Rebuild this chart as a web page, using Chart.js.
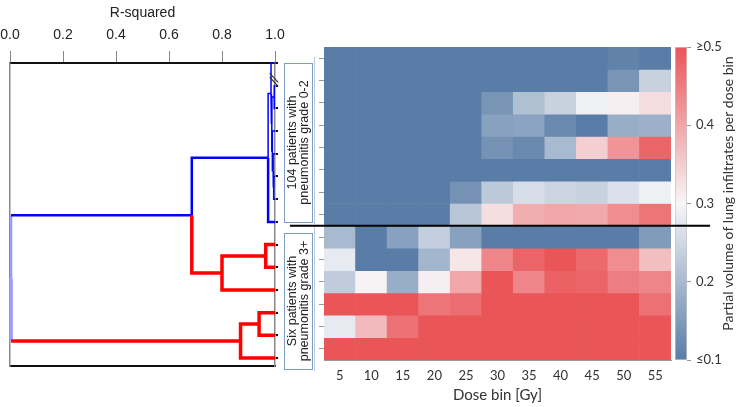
<!DOCTYPE html>
<html>
<head>
<meta charset="utf-8">
<script src="https://cdn.jsdelivr.net/npm/chart.js@4.4.0/dist/chart.umd.min.js"></script>
<style>
  body { margin: 0; background: #fff; }
  #wrap { position: relative; width: 741px; height: 407px; overflow: hidden; }
  canvas { position: absolute; top: 0; }
  #dendro { left: 0; }
  #scale { left: 660px; z-index: 1; }
  #heat { left: 280px; z-index: 2; }
</style>
</head>
<body>
<div id="wrap">
  <canvas id="dendro" width="290" height="407"></canvas>
  <canvas id="scale" width="81" height="407"></canvas>
  <canvas id="heat" width="440" height="407"></canvas>
</div>
<script>
// ---- data ----
const doseBins = ["5", "10", "15", "20", "25", "30", "35", "40", "45", "50", "55"];
const rSquaredTicks = [0, 0.2, 0.4, 0.6, 0.8, 1.0];
const volumeTicks = [0.1, 0.2, 0.3, 0.4, 0.5];

// partial volume of lung infiltrates per dose bin, one row per patient (top to bottom)
const lowGradeRows = [
  [0.1, 0.1, 0.1, 0.1, 0.1, 0.1, 0.1, 0.1, 0.1, 0.11, 0.1],
  [0.1, 0.1, 0.1, 0.1, 0.1, 0.1, 0.1, 0.1, 0.1, 0.14, 0.24],
  [0.1, 0.1, 0.1, 0.1, 0.1, 0.14, 0.21, 0.24, 0.29, 0.31, 0.33],
  [0.1, 0.1, 0.1, 0.1, 0.1, 0.16, 0.165, 0.12, 0.1, 0.18, 0.185],
  [0.1, 0.1, 0.1, 0.1, 0.1, 0.135, 0.12, 0.2, 0.35, 0.42, 0.48],
  [0.1, 0.1, 0.1, 0.1, 0.1, 0.1, 0.1, 0.1, 0.1, 0.1, 0.1],
  [0.1, 0.1, 0.1, 0.1, 0.135, 0.225, 0.26, 0.245, 0.24, 0.265, 0.29],
  [0.1, 0.1, 0.1, 0.1, 0.22, 0.33, 0.39, 0.40, 0.395, 0.43, 0.46]
];
const highGradeRows = [
  [0.2, 0.1, 0.16, 0.235, 0.16, 0.1, 0.1, 0.1, 0.1, 0.1, 0.15],
  [0.28, 0.1, 0.1, 0.195, 0.32, 0.44, 0.48, 0.5, 0.475, 0.43, 0.37],
  [0.23, 0.305, 0.18, 0.31, 0.40, 0.5, 0.44, 0.485, 0.48, 0.45, 0.44],
  [0.5, 0.5, 0.5, 0.46, 0.47, 0.5, 0.5, 0.5, 0.5, 0.5, 0.465],
  [0.28, 0.375, 0.465, 0.5, 0.5, 0.5, 0.5, 0.5, 0.5, 0.5, 0.5],
  [0.5, 0.5, 0.5, 0.5, 0.5, 0.5, 0.5, 0.5, 0.5, 0.5, 0.5]
];

// dendrogram joins: children (leaf 0..13, node 14+) and R-squared of the join
const mergeLeft  = [1, 5, 4, 3, 14, 0, 19, 8, 21, 11, 23, 20, 25];
const mergeRight = [2, 6, 15, 16, 17, 18, 7, 9, 10, 12, 13, 22, 24];
const mergeR2    = [0.997, 0.995, 0.993, 0.990, 0.988, 0.985, 0.974, 0.965, 0.80, 0.94, 0.87, 0.686, 0.004];

// ---- styles ----
const BLUE = '#0000ff', RED = '#ff0000', PALE = '#9c9cff';
const LOW = 'rgb(89,125,166)', MID = 'rgb(247,246,248)', HIGH = 'rgb(234,85,88)';
const labelFont = 'Lato, "Open Sans", sans-serif';
const arialFont = '"Liberation Sans", Arial, sans-serif';

function mix(a, b, t) {
  return a.map((v, i) => Math.round(v + (b[i] - v) * t));
}
function volumeColor(v) {
  const lo = [89, 125, 166], mid = [247, 246, 248], hi = [234, 85, 88];
  const c = Math.min(0.5, Math.max(0.1, v));
  const rgb = c < 0.3 ? mix(lo, mid, (c - 0.1) / 0.2) : mix(mid, hi, (c - 0.3) / 0.2);
  return `rgb(${rgb.join(',')})`;
}

// ---- dendrogram ----
const nLeaves = lowGradeRows.length + highGradeRows.length;
const nodeX = [], nodeY = [];
for (let i = 0; i < nLeaves; i++) { nodeX.push(1.0); nodeY.push(i); }
mergeR2.forEach((h, k) => {
  nodeX.push(h);
  nodeY.push((nodeY[mergeLeft[k]] + nodeY[mergeRight[k]]) / 2);
});

function branchLook(k, side) {
  const child = side === 0 ? mergeLeft[k] : mergeRight[k];
  if (k === mergeR2.length - 1) {
    return { v: PALE, h: side === 0 ? BLUE : RED, w: side === 0 ? 2.5 : 3.5 };
  }
  if (k === mergeR2.length - 2) {
    return side === 0 ? { v: BLUE, h: BLUE, w: 2.5 } : { v: RED, h: RED, w: 3.5 };
  }
  if (k >= 7) return { v: RED, h: RED, w: 3.5 };
  if (child === 7) return { v: BLUE, h: BLUE, w: 2.5 };
  return { v: BLUE, h: BLUE, w: 1.5 };
}

const dendroSets = [];
mergeR2.forEach((h, k) => {
  const y = nodeY[nLeaves + k];
  [mergeLeft[k], mergeRight[k]].forEach((c, side) => {
    const look = branchLook(k, side);
    dendroSets.push({
      data: [{ x: h, y: y }, { x: h, y: nodeY[c] }, { x: nodeX[c], y: nodeY[c] }],
      showLine: true,
      pointRadius: 0,
      borderWidth: look.w,
      borderColor: look.h,
      segment: { borderColor: ctx => ctx.p0DataIndex === 0 ? look.v : look.h },
      clip: false
    });
  });
});

const breakMark = {
  id: 'breakMark',
  afterDatasetsDraw(chart) {
    const { ctx, scales } = chart;
    const x0 = scales.x.getPixelForValue(0.98), x1 = scales.x.getPixelForValue(1.012);
    const y0 = scales.y.getPixelForValue(0.45), y1 = scales.y.getPixelForValue(0.85);
    ctx.save();
    ctx.strokeStyle = '#333';
    ctx.lineWidth = 1.2;
    [0, 4].forEach(d => {
      ctx.beginPath();
      ctx.moveTo(x0, y0 + d);
      ctx.lineTo(x1, y1 + d);
      ctx.stroke();
    });
    ctx.restore();
  }
};

new Chart(document.getElementById('dendro'), {
  type: 'scatter',
  data: { datasets: dendroSets },
  options: {
    responsive: false,
    animation: false,
    devicePixelRatio: 1,
    layout: { padding: 0 },
    plugins: { legend: { display: false }, tooltip: { enabled: false } },
    scales: {
      x: {
        type: 'linear', position: 'top', min: 0, max: 1,
        afterBuildTicks: s => { s.ticks = rSquaredTicks.map(v => ({ value: v })); },
        afterFit: s => { s.height = 63; s.paddingLeft = 0; s.paddingRight = 0; },
        ticks: { font: { family: arialFont, size: 14 }, color: '#222', padding: 7, maxRotation: 0, callback: v => v.toFixed(1) },
        grid: { drawOnChartArea: false, tickLength: 12, color: '#888' },
        border: { color: '#111', width: 2 },
        title: { display: true, text: 'R-squared', font: { family: arialFont, size: 14 }, color: '#222', padding: { top: 5 } }
      },
      x2: {
        type: 'linear', position: 'bottom', min: 0, max: 1,
        afterFit: s => { s.height = 41; },
        ticks: { display: false },
        grid: { display: false },
        border: { color: '#111', width: 2 }
      },
      y: {
        type: 'linear', position: 'left', reverse: true, min: 0, max: 13.35,
        afterFit: s => { s.width = 10; },
        ticks: { display: false },
        grid: { display: false },
        border: { color: '#888', width: 1.5 }
      },
      y2: {
        type: 'linear', position: 'right', reverse: true, min: 0, max: 13.35,
        afterBuildTicks: s => { s.ticks = nodeY.slice(0, nLeaves).map(v => ({ value: v })); },
        afterFit: s => { s.width = 15; },
        ticks: { display: false },
        grid: { drawOnChartArea: false, drawTicks: true, tickLength: 3, color: '#111', lineWidth: 2 },
        border: { color: '#888', width: 1.5 }
      }
    }
  },
  plugins: [breakMark]
});

// ---- heatmap ----
const heatRows = lowGradeRows.concat(highGradeRows);

const heatExtras = {
  id: 'heatExtras',
  afterDraw(chart) {
    const { ctx, scales } = chart;
    const ySep = scales.y.getPixelForValue(lowGradeRows.length - 0.5);
    ctx.save();
    // separator between the two patient groups
    ctx.strokeStyle = '#000';
    ctx.lineWidth = 2;
    ctx.beginPath();
    ctx.moveTo(10, ySep);
    ctx.lineTo(430, ySep);
    ctx.stroke();
    // group label boxes
    const boxes = [
      { top: 63, bottom: 222, lines: ['104 patients with', 'pneumonitis grade 0-2'] },
      { top: 233, bottom: 369, lines: ['Six patients with', 'pneumonitis grade 3+'] }
    ];
    boxes.forEach(b => {
      ctx.strokeStyle = '#7f9cc6';
      ctx.lineWidth = 1;
      ctx.strokeRect(4.5, b.top + 0.5, 28, b.bottom - b.top);
      ctx.strokeStyle = '#b9c9de';
      ctx.beginPath();
      ctx.moveTo(34.5, b.top - 6);
      ctx.lineTo(34.5, b.bottom + 2);
      ctx.stroke();
      ctx.save();
      ctx.translate(18.5, (b.top + b.bottom) / 2);
      ctx.rotate(-Math.PI / 2);
      ctx.fillStyle = '#222';
      ctx.font = '12.5px ' + arialFont;
      ctx.textAlign = 'center';
      ctx.textBaseline = 'middle';
      ctx.fillText(b.lines[0], 0, -6);
      ctx.fillText(b.lines[1], 0, 6);
      ctx.restore();
    });
    ctx.restore();
  }
};

new Chart(document.getElementById('heat'), {
  type: 'bar',
  data: {
    labels: doseBins,
    datasets: heatRows.map((row, i) => ({
      data: row.map(() => [i - 0.5, i + 0.5]),
      backgroundColor: row.map(volumeColor),
      borderWidth: 0,
      grouped: false,
      barPercentage: 1,
      categoryPercentage: 1
    }))
  },
  options: {
    responsive: false,
    animation: false,
    devicePixelRatio: 1,
    layout: { padding: { top: 47, right: 49, left: 0, bottom: 0 } },
    plugins: { legend: { display: false }, tooltip: { enabled: false } },
    scales: {
      x: {
        afterFit: s => { s.height = 47; },
        ticks: { font: { family: labelFont, size: 13 }, color: '#333', padding: 8 },
        grid: { display: false, drawTicks: false },
        border: { color: '#999', width: 1 },
        title: { display: true, text: 'Dose bin [Gy]', font: { family: labelFont, size: 15 }, color: '#333', padding: { top: 0, bottom: 3 } }
      },
      y: {
        type: 'linear', reverse: true, min: -0.5, max: heatRows.length - 0.5,
        afterBuildTicks: s => { s.ticks = heatRows.map((r, i) => ({ value: i })); },
        afterFit: s => { s.width = 44; },
        ticks: { display: false },
        grid: { drawOnChartArea: false, drawTicks: true, tickLength: 5, color: '#999' },
        border: { color: '#999', width: 1 }
      }
    }
  },
  plugins: [heatExtras]
});

// ---- colour scale ----
const scaleTitle = {
  id: 'scaleTitle',
  afterDraw(chart) {
    const { ctx, chartArea } = chart;
    ctx.save();
    ctx.translate(68, (chartArea.top + chartArea.bottom) / 2 - 10);
    ctx.rotate(-Math.PI / 2);
    ctx.fillStyle = '#333';
    ctx.font = '14px ' + labelFont;
    ctx.textAlign = 'center';
    ctx.textBaseline = 'middle';
    ctx.fillText('Partial volume of lung infiltrates per dose bin', 0, 0);
    ctx.restore();
  }
};

new Chart(document.getElementById('scale'), {
  type: 'bar',
  data: {
    labels: [''],
    datasets: [{
      data: [[volumeTicks[0], volumeTicks[volumeTicks.length - 1]]],
      backgroundColor: ctx => {
        const a = ctx.chart.chartArea;
        if (!a) return MID;
        const g = ctx.chart.ctx.createLinearGradient(0, a.bottom, 0, a.top);
        g.addColorStop(0, LOW);
        g.addColorStop(0.5, MID);
        g.addColorStop(1, HIGH);
        return g;
      },
      borderWidth: 1,
      borderColor: '#c4c4c4',
      borderSkipped: false,
      barPercentage: 1,
      categoryPercentage: 1
    }]
  },
  options: {
    responsive: false,
    animation: false,
    devicePixelRatio: 1,
    layout: { padding: { top: 47, bottom: 47, left: 15, right: 0 } },
    plugins: { legend: { display: false }, tooltip: { enabled: false } },
    scales: {
      x: { display: false },
      y: {
        type: 'linear', position: 'right', min: 0.1, max: 0.5,
        afterBuildTicks: s => { s.ticks = volumeTicks.map(v => ({ value: v })); },
        afterFit: s => { s.width = 54; },
        ticks: {
          font: { family: labelFont, size: 13 }, color: '#333', padding: 5,
          callback: v => v >= 0.5 ? '\u22650.5' : v <= 0.1 ? '\u22640.1' : v.toFixed(1)
        },
        grid: { drawOnChartArea: false, tickLength: 4, color: '#999' },
        border: { display: false }
      }
    }
  },
  plugins: [scaleTitle]
});
</script>
</body>
</html>
